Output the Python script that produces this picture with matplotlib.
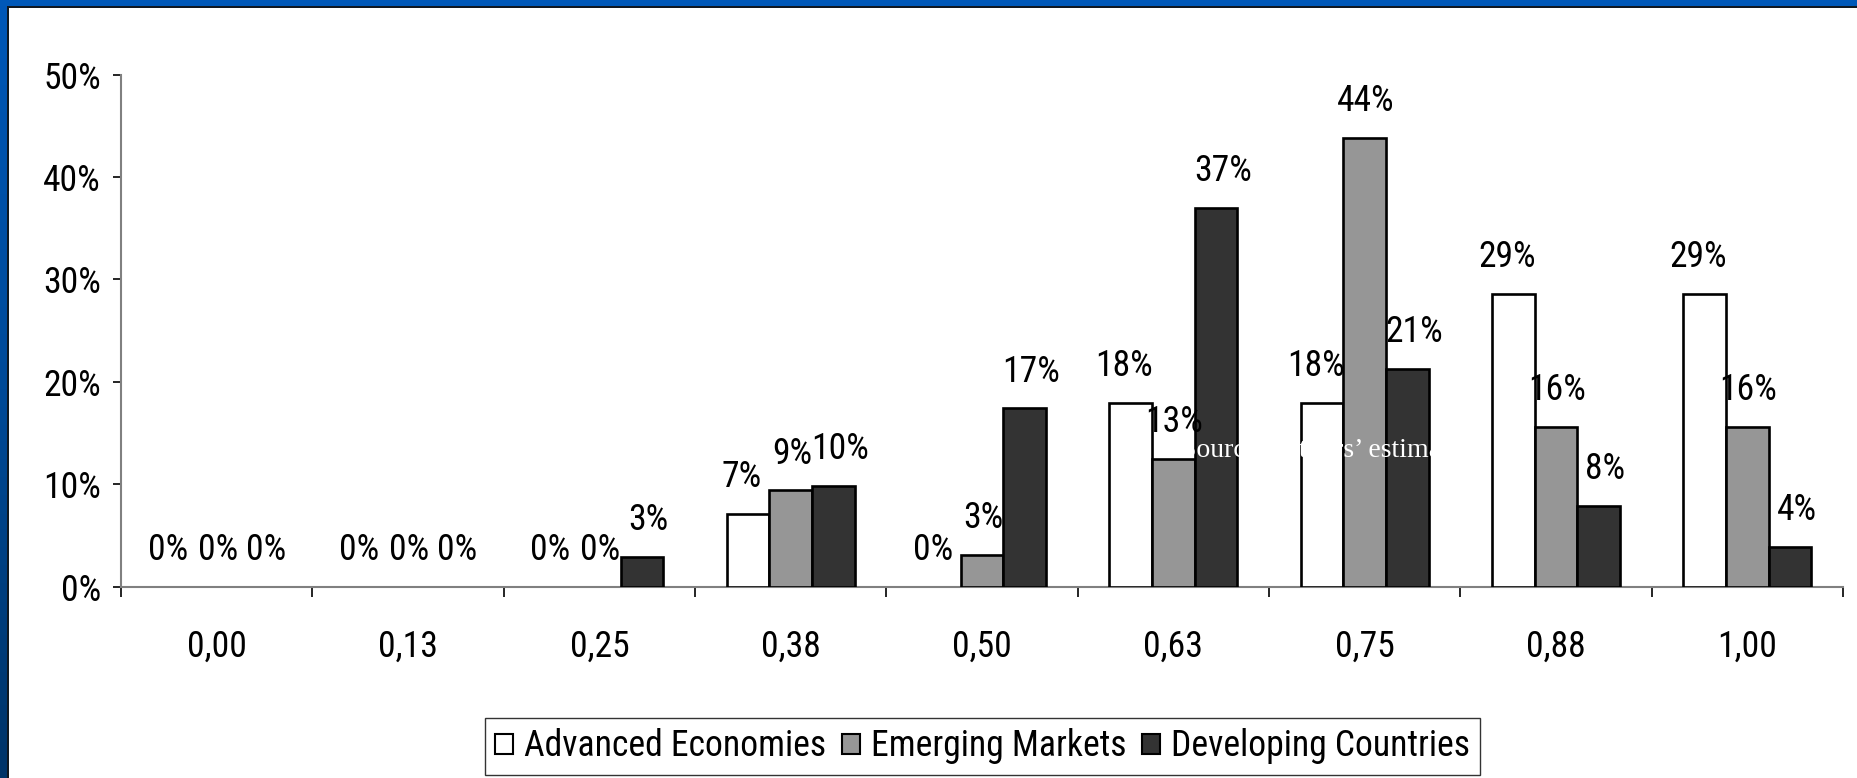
import numpy as np
import matplotlib
matplotlib.use("Agg")
import matplotlib.pyplot as plt
from matplotlib.patches import Rectangle, Patch
from matplotlib import font_manager as fm
from matplotlib.colors import LinearSegmentedColormap

# pick a narrow sans font (Arial Narrow look-alike) if one is installed
def pick_font():
    prefs = ["Liberation Sans Narrow", "Arial Narrow", "Nimbus Sans Narrow",
             "Roboto Condensed", "Open Sans Condensed"]
    fl = fm.fontManager.ttflist
    for p in prefs:
        for f in fl:
            if f.name == p and f.style == "normal" and f.weight in (400, "normal", "regular"):
                return fm.FontProperties(fname=f.fname), f.name
    for f in fl:
        low = f.fname.lower()
        if ("condensed" in low or "narrow" in low) and "bold" not in low \
                and "oblique" not in low and "italic" not in low and "light" not in low \
                and "medium" not in low and "thin" not in low and "black" not in low \
                and "semibold" not in low and "extra" not in low and "DejaVu" not in f.name:
            return fm.FontProperties(fname=f.fname), f.fname
    for f in fl:
        low = f.fname.lower()
        if "dejavusanscondensed.ttf" in low:
            return fm.FontProperties(fname=f.fname), f.fname
    return fm.FontProperties(family="Liberation Sans"), "Liberation Sans"

FP, FNAME = pick_font()

categories = ["0,00", "0,13", "0,25", "0,38", "0,50", "0,63", "0,75", "0,88", "1,00"]
series_names = ["Advanced Economies", "Emerging Markets", "Developing Countries"]
advanced = [0.0, 0.0, 0.0, 7.1, 0.0, 17.9, 17.9, 28.6, 28.6]
emerging = [0.0, 0.0, 0.0, 9.4, 3.1, 12.5, 43.8, 15.6, 15.6]
developing = [0.0, 0.0, 2.9, 9.8, 17.4, 37.0, 21.3, 7.9, 3.9]
yticks = [0, 10, 20, 30, 40, 50]
source_note = "Source: authors\u2019 estimates"

colors = ["#ffffff", "#969696", "#333333"]
label_dx = [-0.033, 0.006, 0.035]   # small horizontal nudges of the value labels

def fp(size):
    p = FP.copy()
    p.set_size(size)
    return p

W, H = 1858, 778
fig = plt.figure(figsize=(W / 100, H / 100), dpi=100)
fig.patch.set_facecolor("white")

# choose a font size so that "50%" is about 58 px wide, like the reference
renderer = fig.canvas.get_renderer()
_t = fig.text(0, 0, "50%", fontproperties=fp(25))
_w = _t.get_window_extent(renderer).width
_t.remove()
FS = min(26.0, 25.0 * 58.0 / _w)

# blue slide frame (top and left)
grad_ax = fig.add_axes([0, 0, 7 / W, 1])
grad = np.linspace(0, 1, 256).reshape(-1, 1)
cmap = LinearSegmentedColormap.from_list("b", ["#0058b8", "#004a98", "#003468"])
grad_ax.imshow(grad, aspect="auto", cmap=cmap)
grad_ax.set_axis_off()
fig.add_artist(Rectangle((0, 1 - 6 / H), 1, 6 / H, transform=fig.transFigure,
                         facecolor="#0058b8", edgecolor="none", zorder=5))
fig.add_artist(Rectangle((7 / W, 0), 1.5 / W, 1 - 6 / H, transform=fig.transFigure,
                         facecolor="#101820", edgecolor="none", zorder=5))
fig.add_artist(Rectangle((7 / W, 1 - 7.5 / H), 1, 1.5 / H, transform=fig.transFigure,
                         facecolor="#101820", edgecolor="none", zorder=5))

left, right = 121 / W, 1843 / W
bottom, top = 1 - 586.6 / H, 1 - 74.7 / H
ax = fig.add_axes([left, bottom, right - left, top - bottom])

x = np.arange(len(categories))
bw = 0.223
all_series = [advanced, emerging, developing]
for k, (vals, name, c) in enumerate(zip(all_series, series_names, colors)):
    xs = x + (k - 1) * bw
    bars = ax.bar(xs, vals, width=bw, color=c, edgecolor="black", linewidth=1.9, zorder=3)
    for b, v in zip(bars, vals):
        if v == 0:
            b.set_visible(False)
    for xi, v in zip(xs, vals):
        ax.text(xi + label_dx[k], v + 3.6, f"{int(v + 0.5)}%", ha="center", va="center",
                fontproperties=fp(FS), color="black", zorder=4)

ax.text(5.041, 12.7, source_note, family="Liberation Serif", fontsize=20,
        color="white", ha="left", va="baseline", zorder=5)

ax.set_xlim(-0.5, len(categories) - 0.5)
ax.set_ylim(0, 50)
ax.set_yticks(yticks)
ax.set_yticklabels([f"{t}%" for t in yticks], fontproperties=fp(FS))
ax.set_xticks(x)
ax.set_xticklabels(categories, fontproperties=fp(FS))
ax.set_xticks(np.arange(len(categories) + 1) - 0.5, minor=True)
ax.tick_params(axis="x", which="major", length=0, pad=30)
ax.tick_params(axis="x", which="minor", length=7.5, width=1.2, color="black", direction="out")
ax.tick_params(axis="y", length=5.5, width=1.2, color="black", direction="out", pad=9)

for s in ["top", "right"]:
    ax.spines[s].set_visible(False)
for s in ["left", "bottom"]:
    ax.spines[s].set_color("#808080")
    ax.spines[s].set_linewidth(1.5)
ax.set_facecolor("none")

handles = [Patch(facecolor=c, edgecolor="black", linewidth=1.5) for c in colors]
leg = fig.legend(handles, series_names, loc="center",
                 bbox_to_anchor=(982.5 / W, 1 - 746.5 / H), ncol=3,
                 prop=fp(FS), frameon=True, fancybox=False, edgecolor="black",
                 handlelength=0.5, handleheight=0.5, handletextpad=0.3,
                 columnspacing=0.45, borderpad=0.3, borderaxespad=0)
leg.get_frame().set_linewidth(1.0)

fig.savefig("out.png", dpi=100, facecolor=fig.get_facecolor())
